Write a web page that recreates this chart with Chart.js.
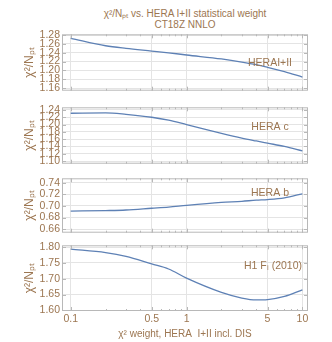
<!DOCTYPE html>
<html>
<head>
<meta charset="utf-8">
<script src="https://cdn.jsdelivr.net/npm/chart.js@4"></script>
<style>
  body { margin: 0; background: #fff; }
  #wrap { position: relative; width: 332px; height: 342px; font-family: 'Liberation Sans', Arial, sans-serif; }
  canvas { position: absolute; left: 0; }
  .title { position: absolute; left: 62px; width: 246px; text-align: center; color: #9c7651; font-size: 10px; line-height: 11px; }
</style>
</head>
<body>
<div id="wrap">
  <div class="title" style="top:8px">χ²/Nₚₜ vs. HERA I+II statistical weight</div>
  <div class="title" style="top:19px">CT18Z NNLO</div>
  <canvas id="p1"></canvas>
  <canvas id="p2"></canvas>
  <canvas id="p3"></canvas>
  <canvas id="p4"></canvas>
</div>
<script>
// valeurs
const weights = [0.1, 0.2, 0.3, 0.5, 0.7, 1, 2, 3, 4, 5, 7, 10];
const heraI_II = [1.273, 1.256, 1.250, 1.244, 1.240, 1.235, 1.226, 1.219, 1.213, 1.207, 1.197, 1.185];
const heraC    = [1.231, 1.232, 1.228, 1.220, 1.212, 1.200, 1.176, 1.163, 1.155, 1.149, 1.140, 1.128];
const heraB    = [0.691, 0.692, 0.693, 0.696, 0.698, 0.701, 0.706, 0.708, 0.710, 0.711, 0.714, 0.721];
const h1FL     = [1.794, 1.783, 1.771, 1.747, 1.731, 1.702, 1.657, 1.639, 1.633, 1.634, 1.644, 1.665];

const xTicks = [0.1, 0.2, 0.3, 0.4, 0.5, 0.6, 0.7, 0.8, 0.9, 1, 2, 3, 4, 5, 6, 7, 8, 9, 10];
const xMajor = [0.1, 0.5, 1, 5, 10];
const yTicks1 = [1.16, 1.18, 1.20, 1.22, 1.24, 1.26, 1.28];
const yTicks2 = [1.10, 1.12, 1.14, 1.16, 1.18, 1.20, 1.22, 1.24];
const yTicks3 = [0.66, 0.68, 0.70, 0.72, 0.74];
const yTicks4 = [1.60, 1.65, 1.70, 1.75, 1.80];

const brown = '#9c7651';
const lineBlue = '#5e81b5';
const fontFam = "'Liberation Sans', Arial, sans-serif";

// cadre, petites graduations intérieures + étiquette du panneau
const framePlugin = {
    id: 'frame',
    afterDraw(chart, args, opts) {
        const a = chart.chartArea;
        const ctx = chart.ctx;
        const xs = chart.scales.x, ys = chart.scales.y;
        ctx.save();
        ctx.strokeStyle = '#b8b8b8';
        ctx.lineWidth = 1;
        ctx.strokeRect(a.left + 0.5, a.top + 0.5, a.right - a.left - 1, a.bottom - a.top - 1);
        ctx.beginPath();
        xTicks.forEach(v => {
            const px = Math.round(xs.getPixelForValue(v)) + 0.5;
            const len = xMajor.includes(v) ? 4 : 2;
            ctx.moveTo(px, a.bottom); ctx.lineTo(px, a.bottom - len);
            ctx.moveTo(px, a.top); ctx.lineTo(px, a.top + len);
        });
        ys.ticks.forEach(t => {
            const py = Math.round(ys.getPixelForValue(t.value)) + 0.5;
            ctx.moveTo(a.left, py); ctx.lineTo(a.left + 4, py);
            ctx.moveTo(a.right, py); ctx.lineTo(a.right - 4, py);
        });
        ctx.stroke();
        ctx.fillStyle = brown;
        ctx.font = '10.5px ' + fontFam;
        ctx.textAlign = 'center';
        ctx.textBaseline = 'middle';
        ctx.fillText(opts.label, opts.lx, a.top + opts.ly);
        ctx.restore();
    }
};

function makePanel(id, top, height, bottomSpace, values, yTicks, yMin, yMax, label, lx, ly, showX) {
    const canvas = document.getElementById(id);
    const padTop = 8;
    canvas.style.top = (top - padTop) + 'px';
    canvas.width = 332;
    canvas.height = height + padTop + bottomSpace;
    canvas.style.width = '332px';
    canvas.style.height = canvas.height + 'px';

    new Chart(canvas, {
        type: 'line',
        data: {
            labels: weights,
            datasets: [{
                data: weights.map((w, i) => ({ x: w, y: values[i] })),
                borderColor: lineBlue,
                borderWidth: 1.3,
                pointRadius: 0,
                fill: false,
                cubicInterpolationMode: 'monotone'
            }]
        },
        options: {
            responsive: false,
            animation: false,
            layout: { padding: { left: 0, right: 24, top: padTop, bottom: 0 } },
            plugins: {
                legend: { display: false },
                tooltip: { enabled: false },
                frame: { label: label, lx: lx, ly: ly }
            },
            scales: {
                x: {
                    type: 'logarithmic',
                    min: 0.0841,
                    max: 11.18,
                    border: { display: false },
                    afterBuildTicks: s => { s.ticks = xTicks.map(v => ({ value: v })); },
                    afterFit: s => { s.height = bottomSpace; },
                    grid: {
                        drawTicks: false,
                        color: c => xMajor.includes(c.tick && c.tick.value) ? '#e4e4e4' : 'rgba(0,0,0,0)'
                    },
                    ticks: {
                        display: showX,
                        autoSkip: false,
                        maxRotation: 0,
                        padding: 2,
                        color: brown,
                        font: { family: fontFam, size: 10.5 },
                        callback: v => xMajor.includes(v) ? String(v) : ''
                    },
                    title: {
                        display: showX,
                        text: 'χ² weight, HERA  I+II incl. DIS',
                        color: brown,
                        font: { family: fontFam, size: 10 },
                        padding: { top: 0, bottom: 2 }
                    }
                },
                y: {
                    min: yMin,
                    max: yMax,
                    border: { display: false },
                    afterBuildTicks: s => { s.ticks = yTicks.map(v => ({ value: v })); },
                    afterFit: s => { s.width = 62; },
                    grid: { drawTicks: false, color: '#e4e4e4' },
                    ticks: {
                        autoSkip: false,
                        padding: 2,
                        color: brown,
                        font: { family: fontFam, size: 10.5 },
                        callback: v => v.toFixed(2)
                    },
                    title: {
                        display: true,
                        text: 'χ²/Nₚₜ',
                        color: brown,
                        font: { family: fontFam, size: 12 },
                        padding: { top: 22, bottom: 0 }
                    }
                }
            }
        },
        plugins: [framePlugin]
    });
}

makePanel('p1', 34, 63, 2, heraI_II, yTicks1, 1.1539, 1.282, 'HERAI+II', 270, 29, false);
makePanel('p2', 107, 63, 2, heraC, yTicks2, 1.0927, 1.2473, 'HERA c', 270, 20, false);
makePanel('p3', 178, 61, 2, heraB, yTicks3, 0.6538, 0.7477, 'HERA b', 270, 15, false);
makePanel('p4', 245, 66, 31, h1FL, yTicks4, 1.598, 1.806, 'H1 F\u2097 (2010)', 273, 21, true);
</script>
</body>
</html>
